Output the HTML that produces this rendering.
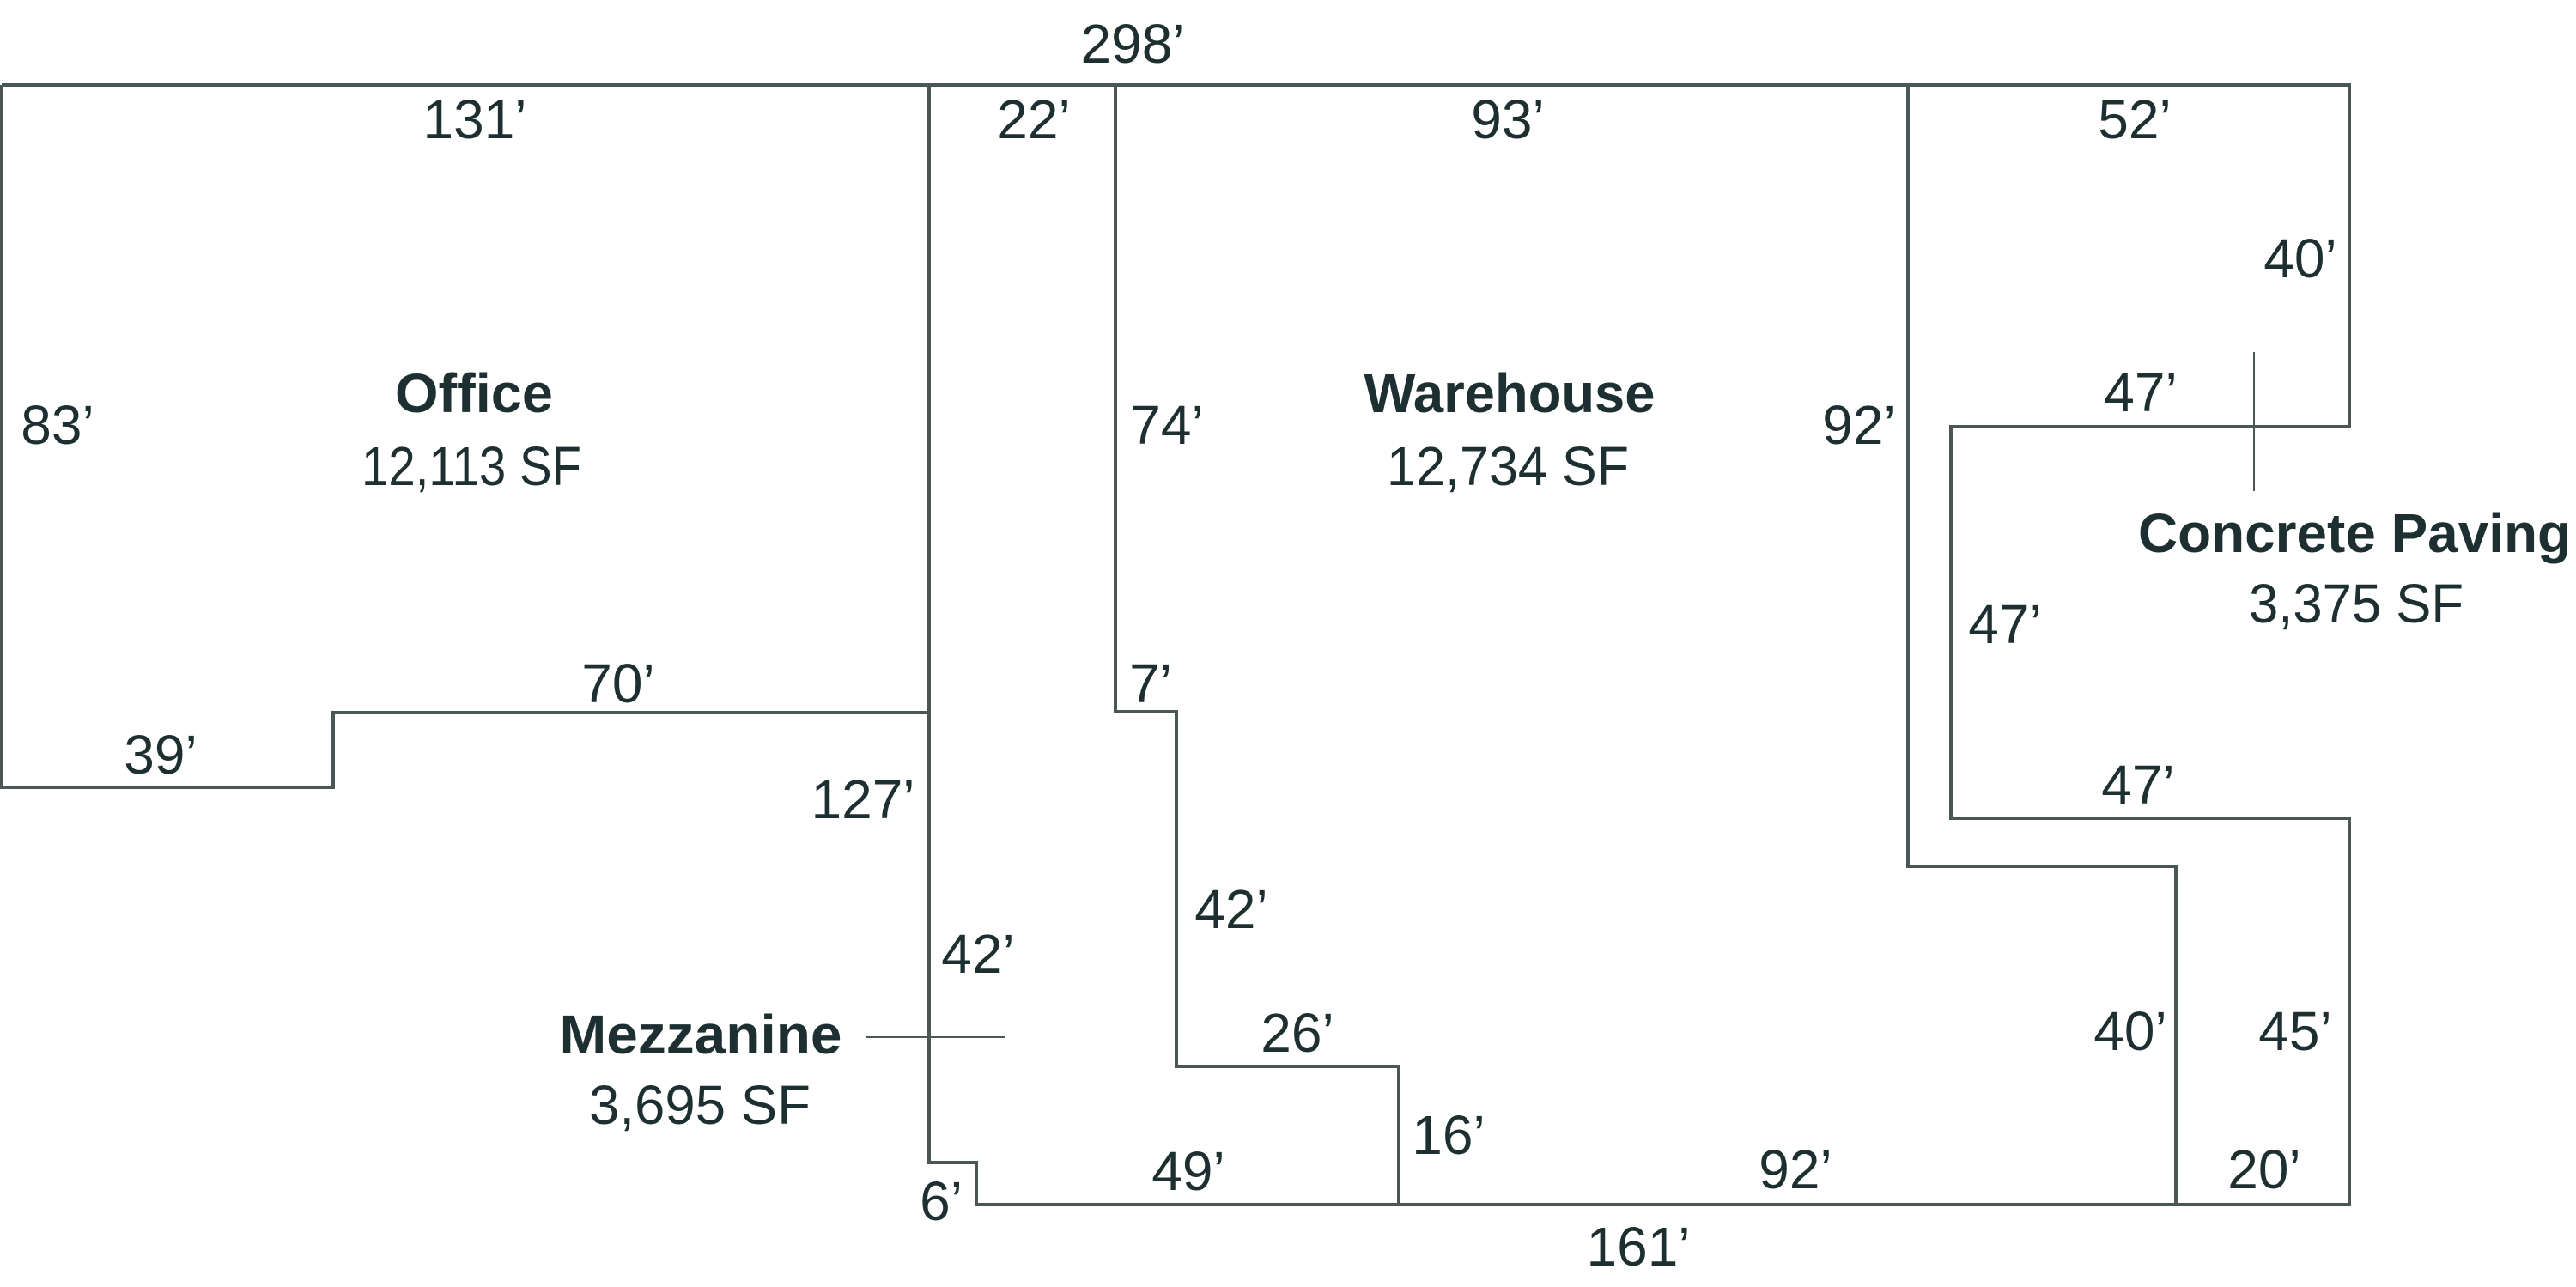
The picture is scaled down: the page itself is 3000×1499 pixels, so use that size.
<!DOCTYPE html>
<html><head><meta charset="utf-8"><style>
html,body{margin:0;padding:0;background:#fff;}
svg{display:block;}
text{font-family:"Liberation Sans",sans-serif;font-size:64px;fill:#1d2f31;text-anchor:middle;}
.b{font-weight:bold;}
</style></head><body>
<svg width="3000" height="1499" viewBox="0 0 3000 1499" xmlns="http://www.w3.org/2000/svg">
<g fill="none" stroke="#4b5657" stroke-width="4">
<path d="M2 99 H2736 V497 H2272 V953 H2736 V1403 H1137 V1354 H1082 V99"/>
<path d="M2 99 V917 H388 V830 H1082"/>
<path d="M1299 99 V829 H1370 V1242 H1629 V1403"/>
<path d="M2222 99 V1009 H2534 V1403"/>
</g>
<g stroke="#4b5657" stroke-width="2">
<line x1="1009" y1="1208" x2="1171" y2="1208"/>
<line x1="2625" y1="410" x2="2625" y2="572"/>
</g>
<text x="1319" y="73">298’</text>
<text x="553" y="161">131’</text>
<text x="1204" y="161">22’</text>
<text x="67" y="517">83’</text>
<text class="b" x="552" y="480" textLength="184" lengthAdjust="spacingAndGlyphs">Office</text>
<text x="549" y="565" textLength="256" lengthAdjust="spacingAndGlyphs">12,113 SF</text>
<text x="1359" y="517">74’</text>
<text x="720" y="818">70’</text>
<text x="1340" y="818">7’</text>
<text x="187" y="901">39’</text>
<text x="1005" y="953">127’</text>
<text x="1139" y="1133">42’</text>
<text x="1434" y="1081">42’</text>
<text class="b" x="816" y="1227" textLength="329" lengthAdjust="spacingAndGlyphs">Mezzanine</text>
<text x="815" y="1309" textLength="258" lengthAdjust="spacingAndGlyphs">3,695 SF</text>
<text x="1096" y="1421">6’</text>
<text x="1384" y="1386">49’</text>
<text x="1511" y="1225">26’</text>
<text x="1756" y="161">93’</text>
<text x="2486" y="161">52’</text>
<text x="2679" y="323">40’</text>
<text class="b" x="1758" y="480" textLength="339" lengthAdjust="spacingAndGlyphs">Warehouse</text>
<text x="1756" y="565" textLength="282" lengthAdjust="spacingAndGlyphs">12,734 SF</text>
<text x="2165" y="517">92’</text>
<text x="2493" y="479">47’</text>
<text class="b" x="2742" y="643" textLength="504" lengthAdjust="spacingAndGlyphs">Concrete Paving</text>
<text x="2744" y="725" textLength="250" lengthAdjust="spacingAndGlyphs">3,375 SF</text>
<text x="2335" y="749">47’</text>
<text x="2490" y="936">47’</text>
<text x="2481" y="1223">40’</text>
<text x="2673" y="1223">45’</text>
<text x="1687" y="1344">16’</text>
<text x="2091" y="1384">92’</text>
<text x="2637" y="1384">20’</text>
<text x="1908" y="1474">161’</text>
</svg>
</body></html>
